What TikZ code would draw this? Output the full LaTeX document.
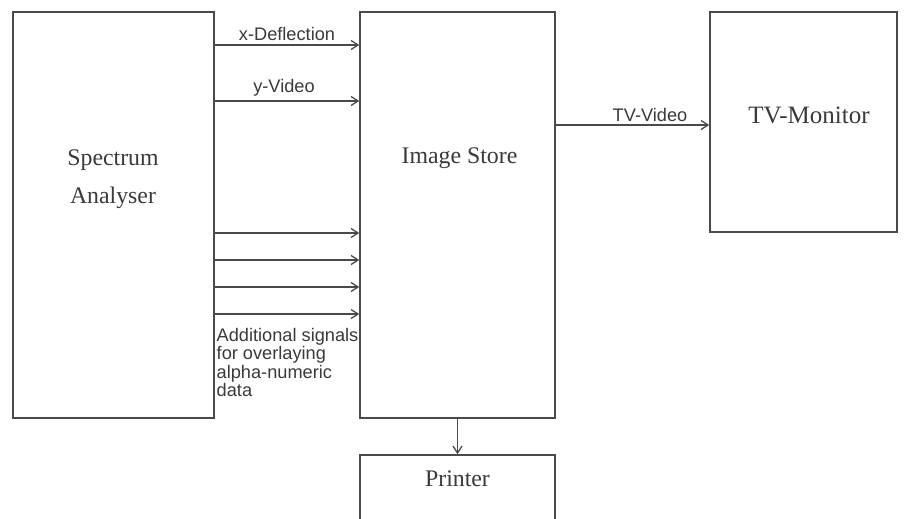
\documentclass[tikz,border=0pt]{standalone}
\usepackage{fontspec}
\setmainfont{Liberation Serif}
\setsansfont{Liberation Sans}
\usetikzlibrary{arrows.meta}
\definecolor{ln}{HTML}{4A4A4A}
\definecolor{tx}{HTML}{3A3A3A}
\tikzset{
  x=1pt, y=-1pt,
  box/.style={draw=ln, line width=1.5pt, inner sep=0pt, fill=white},
  boxtext/.style={text=tx, font=\fontsize{23.8}{38}\selectfont, align=center, inner sep=0pt},
  sig/.style={draw=ln, line width=1.3pt, -{Straight Barb[length=7pt,width=9pt,line width=1.3pt]}},
  siglabel/.style={text=tx, font=\sffamily\fontsize{18.2}{18.5}\selectfont, inner sep=0pt}
}
\begin{document}
\begin{tikzpicture}
\useasboundingbox (0,0) rectangle (907,519);
\clip (0,0) rectangle (907,519);
\fill[white] (0,0) rectangle (907,519);
% boxes
\node[box, minimum width=201pt, minimum height=406pt] (sa) at (113.5,215) {};
\node[box, minimum width=195pt, minimum height=406pt] (is) at (457.5,215) {};
\node[box, minimum width=187pt, minimum height=220pt] (tv) at (803.5,122) {};
\node[box, minimum width=195pt, minimum height=100pt] (pr) at (457.5,505) {};
% box texts
\node[boxtext] (satext) at (113,179) {Spectrum\\Analyser};
\node[boxtext] (istext) at (459.5,158) {Image Store};
\node[boxtext, font=\fontsize{25}{30}\selectfont] (tvtext) at (809,115) {TV-Monitor};
\node[boxtext] (prtext) at (457.5,479) {Printer};
% connectors
\coordinate (y1) at (0,45);
\coordinate (y2) at (0,101);
\coordinate (y3) at (0,233);
\coordinate (y4) at (0,260);
\coordinate (y5) at (0,287);
\coordinate (y6) at (0,314);
\coordinate (y7) at (0,125);
\draw[sig] (sa.east |- y1) -- (is.west |- y1);
\draw[sig] (sa.east |- y2) -- (is.west |- y2);
\draw[sig] (sa.east |- y3) -- (is.west |- y3);
\draw[sig] (sa.east |- y4) -- (is.west |- y4);
\draw[sig] (sa.east |- y5) -- (is.west |- y5);
\draw[sig] (sa.east |- y6) -- (is.west |- y6);
\draw[sig] (is.east |- y7) -- (tv.west |- y7);
\draw[sig] (is.south) -- (pr.north);
% labels
\node[siglabel] (lx) at (287,34) {x-Deflection};
\node[siglabel] (ly) at (284,88) {y-Video};
\node[siglabel] (ltv) at (650,115) {TV-Video};
\node[siglabel, align=left, anchor=north west] (ladd) at (216.5,328) {Additional signals\\for overlaying\\alpha-numeric\\data};
\end{tikzpicture}
\end{document}
